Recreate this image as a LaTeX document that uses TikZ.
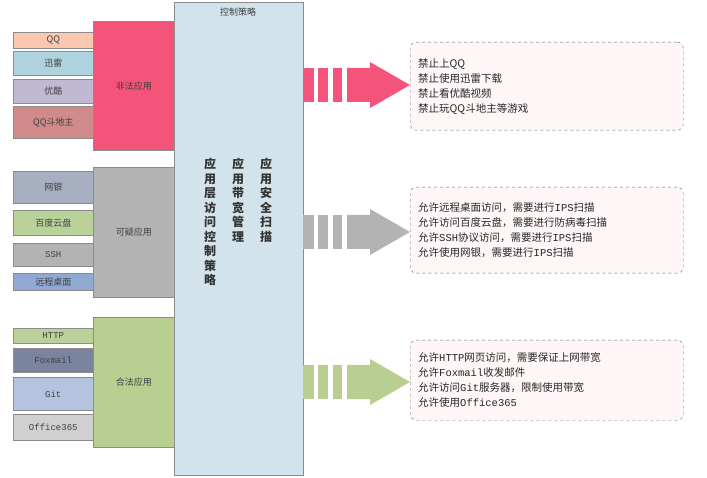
\documentclass[tikz,border=0pt]{standalone}
\usepackage{fontspec}
\setmainfont{Noto Sans CJK SC}
\newfontfamily\monof{Liberation Mono}
\begin{document}
\begin{tikzpicture}[x=1pt,y=-1pt,
  box/.style={draw=black!45,line width=0.6pt,anchor=north west,inner sep=0pt,font=\fontsize{9}{10}\selectfont,text=black!75},
  note/.style={draw=black!60,dashed,rounded corners=6pt,fill=red!3,anchor=north west,align=left,inner sep=8pt,font=\fontsize{10.5}{15}\selectfont,text=black!85,minimum width=273pt,text width=257pt},
  vcol/.style={align=center,font=\fontsize{12}{14.5}\selectfont\bfseries,text=black!80,anchor=north}]
\definecolor{pk}{HTML}{F4537A}\definecolor{gy}{HTML}{B3B3B3}\definecolor{gn}{HTML}{B9CE91}
\useasboundingbox (0,0) rectangle (707,478);
% big box
\node[box,fill={rgb,255:red,211;green,227;blue,236},minimum width=129pt,minimum height=473pt] (ctl) at (174,2) {};
\node[font=\fontsize{9}{10}\selectfont,text=black!75] (ctlt) at (238,12) {控制策略};
\node[vcol] (c1) at (210,155) {应\\用\\层\\访\\问\\控\\制\\策\\略};
\node[vcol] (c2) at (238,155) {应\\用\\带\\宽\\管\\理};
\node[vcol] (c3) at (266,155) {应\\用\\安\\全\\扫\\描};
% groups
\node[box,fill=pk,minimum width=81pt,minimum height=129pt] (g1) at (93,21) {非法应用};
\node[box,fill=gy,minimum width=81pt,minimum height=130pt] (g2) at (93,167) {可疑应用};
\node[box,fill=gn,minimum width=81pt,minimum height=130pt] (g3) at (93,317) {合法应用};
% left items
\node[box,fill={rgb,255:red,249;green,200;blue,174},minimum width=80pt,minimum height=16pt] (qq) at (13,32) {QQ};
\node[box,fill={rgb,255:red,174;green,211;blue,223},minimum width=80pt,minimum height=24pt] (xl) at (13,51) {迅雷};
\node[box,fill={rgb,255:red,193;green,184;blue,210},minimum width=80pt,minimum height=24pt] (yk) at (13,79) {优酷};
\node[box,fill={rgb,255:red,208;green,138;blue,138},minimum width=80pt,minimum height=32pt] (dz) at (13,106) {QQ斗地主};
\node[box,fill={rgb,255:red,168;green,175;blue,192},minimum width=80pt,minimum height=32pt] (wy) at (13,171) {网银};
\node[box,fill={rgb,255:red,186;green,210;blue,154},minimum width=80pt,minimum height=25pt] (bd) at (13,210) {百度云盘};
\node[box,fill=gy,minimum width=80pt,minimum height=23pt,font=\monof\fontsize{9}{10}\selectfont] (ssh) at (13,243) {SSH};
\node[box,fill={rgb,255:red,143;green,169;blue,211},minimum width=80pt,minimum height=17pt] (yc) at (13,273) {远程桌面};
\node[box,fill={rgb,255:red,186;green,210;blue,154},minimum width=80pt,minimum height=15pt,font=\monof\fontsize{9}{10}\selectfont] (http) at (13,328) {HTTP};
\node[box,fill={rgb,255:red,122;green,132;blue,158},minimum width=80pt,minimum height=24pt,font=\monof\fontsize{9}{10}\selectfont] (fm) at (13,348) {Foxmail};
\node[box,fill={rgb,255:red,180;green,195;blue,224},minimum width=80pt,minimum height=33pt,font=\monof\fontsize{9}{10}\selectfont] (git) at (13,377) {Git};
\node[box,fill={rgb,255:red,208;green,208;blue,208},minimum width=80pt,minimum height=26pt,font=\monof\fontsize{9}{10}\selectfont] (off) at (13,414) {Office365};
% arrows
\foreach \yc/\c in {85/pk,232/gy,382/gn}{
  \fill[\c] (303,\yc-17) rectangle (314,\yc+17);
  \fill[\c] (318,\yc-17) rectangle (328,\yc+17);
  \fill[\c] (333,\yc-17) rectangle (342,\yc+17);
  \fill[\c] (347,\yc-17) -- (370,\yc-17) -- (370,\yc-23) -- (410,\yc) -- (370,\yc+23) -- (370,\yc+17) -- (347,\yc+17) -- cycle;
}
% notes
\node[note,minimum height=88pt] (n1) at (410,42) {禁止上QQ\\禁止使用迅雷下载\\禁止看优酷视频\\禁止玩QQ斗地主等游戏};
\node[note,minimum height=86pt] (n2) at (410,187) {允许远程桌面访问，需要进行{\monof IPS}扫描\\允许访问百度云盘，需要进行防病毒扫描\\允许{\monof SSH}协议访问，需要进行{\monof IPS}扫描\\允许使用网银，需要进行{\monof IPS}扫描};
\node[note,minimum height=80pt] (n3) at (410,340) {允许{\monof HTTP}网页访问，需要保证上网带宽\\允许{\monof Foxmail}收发邮件\\允许访问{\monof Git}服务器，限制使用带宽\\允许使用{\monof Office365}};
\end{tikzpicture}
\end{document}
